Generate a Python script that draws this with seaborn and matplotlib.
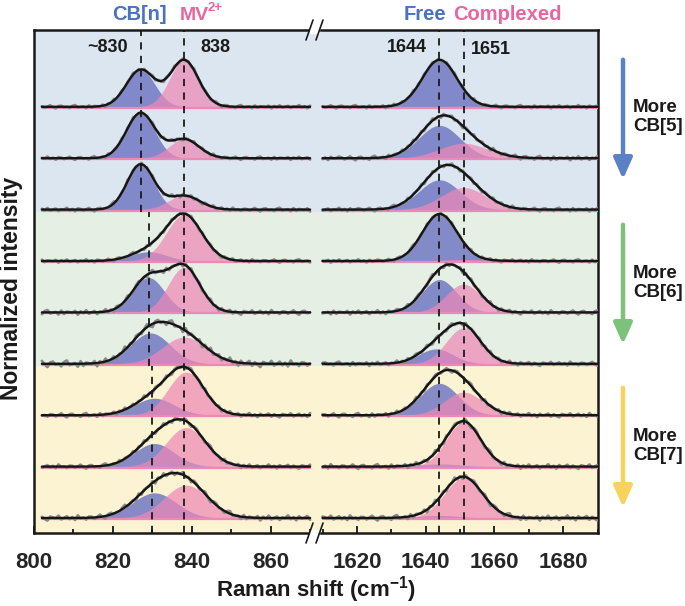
import numpy as np
import matplotlib
matplotlib.use('Agg')
import matplotlib.pyplot as plt
from matplotlib.lines import Line2D
from matplotlib.patches import Rectangle, FancyArrowPatch
import seaborn as sns

# peak fits, rows top -> bottom (left: 800-870, right: 1610-1690)
blue_c_L = [827, 827, 827, 829, 829, 829.5, 830.5, 830.5, 830.5]
blue_h_L = [0.72, 0.88, 0.88, 0.18, 0.68, 0.60, 0.33, 0.45, 0.49]
blue_s_L = [3.6, 3.6, 3.4, 4.5, 4.0, 5.0, 5.0, 5.0, 5.5]
pink_c_L = [838, 838, 838, 838, 838, 838, 838.5, 838.5, 838.5]
pink_h_L = [0.91, 0.37, 0.27, 0.90, 0.88, 0.52, 0.84, 0.76, 0.64]
pink_s_L = [3.6, 3.8, 4.0, 4.5, 4.0, 5.5, 4.5, 5.0, 5.5]

blue_c_R = [1644, 1644, 1644, 1644, 1644, 1643, 1644, 1644, 1644]
blue_h_R = [0.91, 0.64, 0.58, 0.90, 0.64, 0.29, 0.62, 0.05, 0.05]
blue_s_R = [5.0, 6.0, 6.0, 5.0, 5.0, 5.0, 5.5, 6.0, 6.0]
pink_c_R = [1651, 1651, 1651, 1651, 1651, 1651, 1651, 1651, 1651]
pink_h_R = [0.01, 0.29, 0.43, 0.03, 0.55, 0.70, 0.45, 0.86, 0.78]
pink_s_R = [6.0, 7.0, 6.5, 6.0, 5.0, 5.0, 5.5, 5.0, 5.5]

# residual wiggle of the measured spectra (read by eye, relative units)
noise = [0.3, -0.5, 0.1, 0.8, -0.2, -0.9, 0.4, 0.6, -0.3, 0.0, -0.7, 0.5, 0.9, -0.4, -0.1,
         0.2, -0.8, 0.7, -0.6, 0.3, 0.1, -0.2, 0.6, -0.9, 0.4, -0.3, 0.8, -0.5, 0.0, 0.5,
         -0.7, 0.2, -0.1, 0.9, -0.4, 0.3, -0.8, 0.6, -0.2, 0.1, 0.7, -0.6, 0.4, -0.3, -0.9,
         0.5, 0.2, -0.1, 0.8, -0.5, 0.0, 0.6, -0.4, 0.3, -0.7, 0.9, -0.2, 0.1, -0.6, 0.4]
noise_amp_L = [0.035, 0.035, 0.04, 0.035, 0.05, 0.07, 0.045, 0.045, 0.055]
noise_amp_R = [0.035, 0.045, 0.04, 0.035, 0.045, 0.045, 0.045, 0.05, 0.055]

band_colors = ['#dce6f0', '#e6efe4', '#fcf3d3']
arrow_colors = ['#5a80c6', '#7cc27a', '#f8d35a']
arrow_texts = ['More\nCB[5]', 'More\nCB[6]', 'More\nCB[7]']

BLUE = '#7279c4'
PINK = '#ee88b6'
W, H = 685, 606

sns.set_theme(style='ticks')
plt.rcParams['font.family'] = ['Liberation Sans', 'DejaVu Sans']
plt.rcParams['font.weight'] = 'bold'
plt.rcParams['mathtext.fontset'] = 'custom'
plt.rcParams['mathtext.bf'] = 'Liberation Sans:bold'
plt.rcParams['mathtext.rm'] = 'Liberation Sans:bold'

fig = plt.figure(figsize=(W / 100, H / 100), dpi=100)
ax_top, ax_bot = 30, 533
axL = fig.add_axes([34 / W, 1 - ax_bot / H, 282 / W, (ax_bot - ax_top) / H])
axR = fig.add_axes([316 / W, 1 - ax_bot / H, 282 / W, (ax_bot - ax_top) / H])

ylo, yhi = -0.292, 9.494


def gauss(x, c, h, s):
    return h * np.exp(-(x - c) ** 2 / (2 * s ** 2))


def draw_panel(ax, x, bc, bh, bs, pc, ph, ps, amps, xlim):
    ax.axhspan(5.95, yhi, color=band_colors[0], lw=0, zorder=0)
    ax.axhspan(2.95, 5.95, color=band_colors[1], lw=0, zorder=0)
    ax.axhspan(ylo, 2.95, color=band_colors[2], lw=0, zorder=0)
    for i in range(9):
        base = 8 - i
        gb = gauss(x, bc[i], bh[i], bs[i])
        gp = gauss(x, pc[i], ph[i], ps[i])
        ax.fill_between(x, base, base + gb, color=BLUE, alpha=0.85, lw=0, zorder=2)
        ax.fill_between(x, base, base + gp, color=PINK, alpha=0.72, lw=0, zorder=3)
        ax.plot(x, np.full_like(x, base - 0.02), color=PINK, lw=1.6, zorder=3.5)
        wig = np.roll(np.resize(noise, len(x)), i * 7) * amps[i]
        sns.lineplot(x=x, y=base + gb + gp + wig, ax=ax, color='#8a8a8a', lw=2.0,
                     zorder=4, estimator=None, sort=False)
        sns.lineplot(x=x, y=base + gb + gp, ax=ax, color='#151515', lw=1.7,
                     zorder=5, estimator=None, sort=False)
    ax.set_xlim(*xlim)
    ax.set_ylim(ylo, yhi)
    ax.set_yticks([])
    ax.set_ylabel('')
    ax.tick_params(axis='x', which='both', direction='in', labelsize=16, pad=14,
                   width=1.4, top=False)
    ax.tick_params(axis='x', which='major', length=5)
    ax.tick_params(axis='x', which='minor', length=3)
    for sp in ax.spines.values():
        sp.set_linewidth(1.8)
        sp.set_color('#1a1a1a')


xL = np.arange(802, 870.01, 0.7)
xR = np.arange(1610, 1690.01, 0.8)
draw_panel(axL, xL, blue_c_L, blue_h_L, blue_s_L, pink_c_L, pink_h_L, pink_s_L,
           noise_amp_L, (800, 871.4))
draw_panel(axR, xR, blue_c_R, blue_h_R, blue_s_R, pink_c_R, pink_h_R, pink_s_R,
           noise_amp_R, (1608.1, 1690.1))

axL.set_xticks([800, 820, 840, 860])
axL.set_xticks([810, 830, 850, 870], minor=True)
axR.set_xticks([1620, 1640, 1660, 1680])
axR.set_xticks([1610, 1630, 1650, 1670, 1690], minor=True)
for ax in (axL, axR):
    ax.set_xticklabels([str(int(t)) for t in ax.get_xticks()], fontweight='bold')
axL.spines['right'].set_visible(False)
axR.spines['left'].set_visible(False)

# dashed guide lines
dash = dict(color='#1a1a1a', lw=1.3, ls=(0, (4, 3.5)), zorder=6)
axL.plot([827, 827], [5.95, yhi], **dash)
axL.plot([829, 829], [2.95, 5.95], **dash)
axL.plot([830, 830], [ylo, 2.95], **dash)
axL.plot([838, 838], [ylo, yhi], **dash)
axR.plot([1644, 1644], [ylo, yhi], **dash)
axR.plot([1651, 1651], [ylo, yhi], **dash)


def ftext(x, y, s, **kw):
    fig.text(x / W, 1 - y / H, s, fontweight='bold', **kw)


ftext(139, 14, 'CB[n]', color='#4a72bf', fontsize=14.5, ha='center', va='center')
ftext(180, 15, 'MV', color='#e8659f', fontsize=14, ha='left', va='center')
ftext(208, 8, '2+', color='#e8659f', fontsize=9.5, ha='left', va='center')
ftext(425, 14, 'Free', color='#4a72bf', fontsize=14.5, ha='center', va='center')
ftext(507, 14, 'Complexed', color='#e8659f', fontsize=14.5, ha='center', va='center')
ftext(108, 48, '~830', color='#1a1a1a', fontsize=13, ha='center', va='center')
ftext(215, 48, '838', color='#1a1a1a', fontsize=13, ha='center', va='center')
ftext(407, 48, '1644', color='#1a1a1a', fontsize=13, ha='center', va='center')
ftext(491, 49, '1651', color='#1a1a1a', fontsize=13, ha='center', va='center')
ftext(316, 590, r'Raman shift (cm$^{\mathbf{-1}}$)', color='#1a1a1a', fontsize=16,
      ha='center', va='center')
ftext(12, 288, 'Normalized intensity', color='#1a1a1a', fontsize=16.5, ha='center',
      va='center', rotation=90)

# trend arrows
arrow_spans = [(57, 182), (222, 347), (385, 510)]
text_y = [117, 283, 446]
for (y0, y1), col, txt, ty in zip(arrow_spans, arrow_colors, arrow_texts, text_y):
    fig.patches.append(FancyArrowPatch(
        (623 / W, 1 - y0 / H), (623 / W, 1 - y1 / H), transform=fig.transFigure,
        arrowstyle='-|>,head_width=0.4,head_length=0.9', mutation_scale=14,
        color=col, lw=3.2))
    ftext(633, ty, txt, color='#1a1a1a', fontsize=13.5, ha='left', va='center',
          linespacing=1.1)

# axis break marks
for yc in (ax_top, ax_bot):
    fig.patches.append(Rectangle((310 / W, 1 - (yc + 3) / H), 9 / W, 6 / H,
                                 transform=fig.transFigure, color='white', zorder=10))
    for x0 in (306, 316):
        fig.lines.append(Line2D([x0 / W, (x0 + 7) / W], [1 - (yc + 10) / H, 1 - (yc - 10) / H],
                                transform=fig.transFigure, color='#1a1a1a', lw=1.2,
                                zorder=11))

fig.savefig('out.png', dpi=100)
